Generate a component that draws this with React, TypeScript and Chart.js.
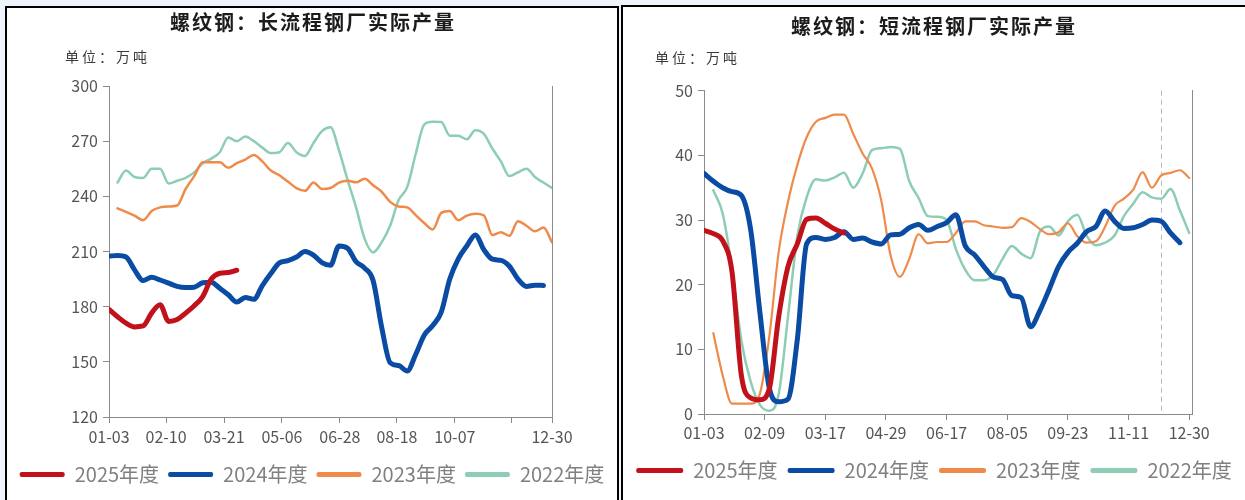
import React, { useEffect, useRef } from "react";
import { Chart, registerables } from "chart.js";

Chart.register(...registerables);

// ---------- data ----------
const SERIES_NAMES = ["2025年度", "2024年度", "2023年度", "2022年度"];
const SERIES_COLORS = ["#C1121C", "#0A4BA3", "#F08A4B", "#8DCDB3"];

// x positions are week indices (0 = 01-03)
const LONG_TICK_WEEKS = [0, 6.7, 13.5, 20.3, 27.1, 33.8, 40.6, 47.3, 52];
const LONG_TICK_LABELS = ["01-03", "02-10", "03-21", "05-06", "06-28", "08-18", "10-07", "", "12-30"];
const SHORT_TICK_WEEKS = [0, 6.5, 13, 19.5, 26, 32.5, 39, 45.5, 52];
const SHORT_TICK_LABELS = ["01-03", "02-09", "03-17", "04-29", "06-17", "08-05", "09-23", "11-11", "12-30"];

// 长流程 (万吨), weekly values
const LONG_2025 = [178.5, 174.5, 171, 169, 169.5, 176.5, 181, 172, 173, 176.5, 180.5, 185.5, 195, 198.2, 198.6, 199.8];
const LONG_2024 = [207.5, 207.8, 207, 200, 194.2, 196, 194.5, 192.8, 191, 190.4, 190.6, 193, 193.3, 190, 186.5, 182.5, 185, 184, 191.5, 198, 203.8, 205, 207, 210, 208, 204, 202.5, 213, 211.8, 204.5, 201, 194.2, 169, 149.5, 148, 145, 154, 164.5, 169.7, 177, 195, 206, 213, 219, 211, 205.8, 205.2, 202, 195, 191, 191.7, 191.5, null];
const LONG_2023 = [null, 233.5, 231.5, 229.5, 227, 232, 234, 234.5, 235, 244, 251, 258.5, 258.5, 258.5, 255.5, 258, 260, 262.5, 259, 254, 251.5, 248, 244.5, 243, 247.5, 244, 244.5, 247.5, 248.5, 247.6, 249.5, 246, 242.5, 237, 234.5, 234, 229.8, 225.5, 222, 231, 232, 227, 229.5, 230.5, 229.7, 219, 220.5, 218.5, 226.5, 224, 221, 223, 215];
const LONG_2022 = [null, 247.5, 254, 250.5, 250, 255, 255, 247, 248.5, 250, 253, 258, 260.5, 264, 272, 270, 272.5, 270, 266.5, 263.5, 264, 269, 264, 262, 269, 275.5, 277.6, 265, 249, 234, 217, 209.5, 215, 224, 238, 245, 263, 279, 280.5, 280.4, 273, 273, 271, 276, 274, 266, 259, 251, 253, 255, 250.5, 247.5, 244.5];

// 短流程 (万吨), weekly values
const SHORT_2025 = [28.4, 27.9, 26.8, 22, 6, 2.5, 2.2, 3.9, 15, 22.8, 26.3, 30.1, 30.3, 29.5, 28.6, 28];
const SHORT_2024 = [37.2, 36, 35, 34.4, 33.8, 28.5, 15.6, 4, 1.9, 2.3, 11.5, 26.3, 27.3, 27, 27.3, 28.2, 27, 27.2, 26.6, 26.3, 27.7, 27.8, 28.8, 29.3, 28.4, 29, 29.6, 30.8, 26, 24.6, 22.8, 21.2, 20.8, 18.3, 18, 13.5, 16, 19.3, 22.8, 25, 26.4, 28.2, 29, 31.4, 29.8, 28.7, 28.8, 29.3, 30, 29.8, 28, 26.5, null];
const SHORT_2023 = [null, 12.5, 6, 1.6, 1.6, 1.6, 3.2, 12, 25, 32.8, 38.5, 42.8, 45.2, 45.8, 46.3, 46.3, 43.3, 40.3, 38, 33, 24.5, 21.2, 24, 27.8, 26.4, 26.6, 26.6, 28, 29.8, 29.8, 29.2, 29, 28.8, 28.9, 30.3, 29.7, 28.6, 27.8, 28.1, 29.5, 27.5, 26.5, 26.7, 29, 32.2, 33.3, 34.7, 37.4, 35, 36.9, 37.3, 37.7, 36.5];
const SHORT_2022 = [null, 34.6, 31, 22.5, 11.4, 5, 1.4, 0.5, 3, 15, 27.5, 33.5, 36.3, 36.1, 36.6, 37.3, 35, 37.2, 40.8, 41.1, 41.3, 41, 36, 33.4, 30.6, 30.5, 30, 25.5, 22.3, 20.7, 20.7, 21.5, 24, 26, 24.8, 24.1, 28.2, 29, 27.6, 29.8, 30.8, 27.6, 26.1, 26.5, 27.6, 30.6, 32.5, 34.3, 33.5, 33.3, 34.8, 31.5, 28];
const SHORT_MARKER_WEEK = 49;

// ---------- styles ----------
const FONT = "'Noto Sans CJK SC', 'Noto Sans', sans-serif";
const AXIS_COLOR = "#8a8a8a";
const TICK_COLOR = "#555555";

const headerPlugin = {
  id: "panelHeader",
  beforeDatasetsDraw(chart: any, _a: any, opts: any) {
    if (opts.markerWeek == null) return;
    const ctx = chart.ctx;
    const x = Math.round(chart.scales.x.getPixelForValue(opts.markerWeek)) + 0.5;
    ctx.save();
    ctx.setLineDash([5, 4]);
    ctx.strokeStyle = "#b4b8c8";
    ctx.lineWidth = 1;
    ctx.beginPath();
    ctx.moveTo(x, chart.chartArea.top);
    ctx.lineTo(x, chart.chartArea.bottom);
    ctx.stroke();
    ctx.restore();
  },
  afterDraw(chart: any, _a: any, opts: any) {
    const ctx = chart.ctx;
    ctx.save();
    ctx.textBaseline = "middle";
    ctx.fillStyle = "#1c1c1c";
    ctx.font = "bold 20px 'Noto Sans CJK SC', sans-serif";
    ctx.letterSpacing = "2px";
    ctx.textAlign = "center";
    ctx.fillText(opts.title, opts.titleX, opts.titleY);
    ctx.fillStyle = "#3a3a3a";
    ctx.font = "14px 'Noto Sans CJK SC', sans-serif";
    ctx.letterSpacing = "3px";
    ctx.textAlign = "left";
    ctx.fillText(opts.unit, opts.unitX, opts.unitY);
    ctx.restore();
  },
};

function buildConfig(p: any): any {
  const L = p.layout;
  const axisGrid = { display: true, drawOnChartArea: false, drawTicks: true, tickLength: 6, color: AXIS_COLOR, tickColor: AXIS_COLOR };
  return {
    type: "line",
    data: {
      datasets: p.series.map((vals: (number | null)[], i: number) => ({
        label: SERIES_NAMES[i],
        data: vals.map((v, w) => ({ x: w, y: v })),
        borderColor: SERIES_COLORS[i],
        backgroundColor: SERIES_COLORS[i],
        borderWidth: p.widths[i],
        pointRadius: 0,
        pointHoverRadius: 0,
        cubicInterpolationMode: "monotone",
        borderCapStyle: "round",
        borderJoinStyle: "round",
        spanGaps: false,
        fill: false,
      })),
    },
    options: {
      animation: false,
      responsive: false,
      devicePixelRatio: 1,
      layout: { padding: { top: L.top, left: 0, right: 0, bottom: L.bottom } },
      scales: {
        x: {
          type: "linear",
          min: 0,
          max: p.xMax,
          afterBuildTicks: (s: any) => {
            s.ticks = p.tickWeeks.map((v: number) => ({ value: v }));
          },
          afterFit: (s: any) => {
            s.height = L.xH;
          },
          ticks: {
            autoSkip: false,
            maxRotation: 0,
            minRotation: 0,
            padding: L.xPad,
            color: TICK_COLOR,
            font: { size: 16, family: FONT },
            callback: (_v: any, i: number) => p.tickLabels[i],
          },
          grid: axisGrid,
          border: { display: true, color: AXIS_COLOR, width: 1 },
        },
        y: {
          type: "linear",
          position: "left",
          min: p.yMin,
          max: p.yMax,
          afterFit: (s: any) => {
            s.width = L.yW;
          },
          ticks: { stepSize: p.yStep, padding: 5, color: TICK_COLOR, font: { size: 16, family: FONT } },
          grid: axisGrid,
          border: { display: true, color: AXIS_COLOR, width: 1 },
        },
        y2: {
          type: "linear",
          position: "right",
          min: p.yMin,
          max: p.yMax,
          afterFit: (s: any) => {
            s.width = L.y2W;
          },
          ticks: { display: false },
          grid: { display: false },
          border: { display: true, color: AXIS_COLOR, width: 1 },
        },
      },
      plugins: {
        tooltip: { enabled: false },
        title: { display: false },
        legend: {
          display: true,
          position: "bottom",
          align: "center",
          labels: {
            boxWidth: L.legendBox,
            boxHeight: 5,
            padding: L.legendPad,
            color: "#808080",
            useBorderRadius: true,
            borderRadius: 2,
            font: { size: 20, family: FONT },
            generateLabels: (chart: any) =>
              chart.data.datasets.map((d: any, i: number) => ({
                text: d.label,
                fillStyle: d.borderColor,
                strokeStyle: d.borderColor,
                lineWidth: 0,
                hidden: false,
                datasetIndex: i,
                fontColor: "#808080",
                borderRadius: 2,
              })),
          },
        },
        panelHeader: p.header,
      },
    },
    plugins: [headerPlugin],
  };
}

function ChartCanvas({ config, width, height }: { config: any; width: number; height: number }) {
  const ref = useRef<HTMLCanvasElement | null>(null);
  useEffect(() => {
    if (!ref.current) return;
    const chart = new Chart(ref.current, config);
    return () => chart.destroy();
  }, [config]);
  return (
    <canvas
      ref={ref}
      width={width}
      height={height}
      style={{ position: "absolute", left: 0, top: 0, width, height, display: "block" }}
    />
  );
}

const longConfig = buildConfig({
  series: [LONG_2025, LONG_2024, LONG_2023, LONG_2022],
  widths: [5, 5, 2.5, 2.5],
  tickWeeks: LONG_TICK_WEEKS,
  tickLabels: LONG_TICK_LABELS,
  xMax: 52,
  yMin: 120,
  yMax: 300,
  yStep: 30,
  layout: { top: 78, bottom: 5.5, xH: 38.5, xPad: 4, yW: 102, y2W: 65, legendBox: 45, legendPad: 9 },
  header: { title: "螺纹钢：长流程钢厂实际产量", titleX: 306, titleY: 14, unit: "单位：万吨", unitX: 58, unitY: 48.5, markerWeek: null },
});

const shortConfig = buildConfig({
  series: [SHORT_2025, SHORT_2024, SHORT_2023, SHORT_2022],
  widths: [5, 5, 2.2, 2.5],
  tickWeeks: SHORT_TICK_WEEKS,
  tickLabels: SHORT_TICK_LABELS,
  xMax: 52.3,
  yMin: 0,
  yMax: 50,
  yStep: 10,
  layout: { top: 83.7, bottom: 9.5, xH: 36.5, xPad: 3, yW: 81, y2W: 53, legendBox: 47, legendPad: 10 },
  header: { title: "螺纹钢：短流程钢厂实际产量", titleX: 311, titleY: 19, unit: "单位：万吨", unitX: 32, unitY: 50.5, markerWeek: SHORT_MARKER_WEEK },
});

export default function App() {
  return (
    <div style={{ position: "fixed", left: 0, top: 0, width: 1245, height: 500, background: "#eef4fb", overflow: "hidden" }}>
      <div
        style={{
          position: "absolute",
          left: 5,
          top: 6,
          width: 614,
          height: 520,
          boxSizing: "border-box",
          borderTop: "2px solid #000",
          borderLeft: "2px solid #000",
          borderRight: "2px solid #000",
          background: "#fff",
        }}
      >
        <div style={{ position: "relative", width: 610, height: 492 }}>
          <ChartCanvas config={longConfig} width={610} height={492} />
        </div>
      </div>
      <div
        style={{
          position: "absolute",
          left: 621,
          top: 5,
          width: 640,
          height: 520,
          boxSizing: "border-box",
          borderTop: "2px solid #000",
          borderLeft: "2px solid #000",
          background: "#fff",
        }}
      >
        <div style={{ position: "relative", width: 622, height: 493 }}>
          <ChartCanvas config={shortConfig} width={622} height={493} />
        </div>
      </div>
    </div>
  );
}
